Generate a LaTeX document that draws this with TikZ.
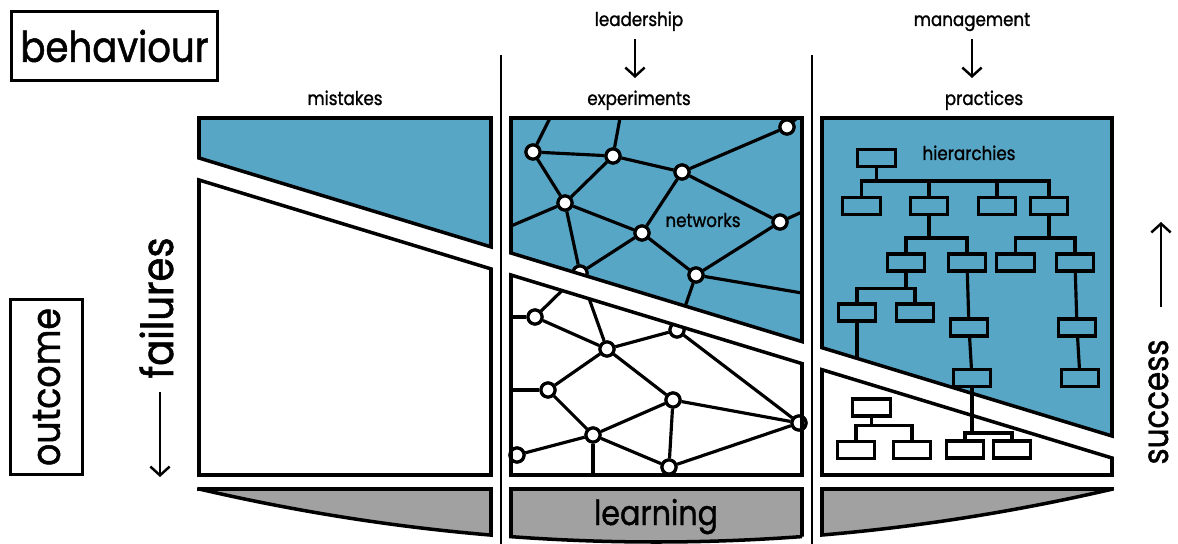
\documentclass[tikz,border=0pt]{standalone}
\usepackage{fontspec}
\setmainfont{Poppins}[FakeStretch=0.88, FakeBold=1.2]
\usetikzlibrary{arrows.meta}

\definecolor{netblue}{RGB}{88,166,198}
\definecolor{learngray}{RGB}{161,161,161}

\tikzset{
  panel/.style={line width=2pt, line join=miter},
  divider/.style={line width=1.7pt},
  link/.style={line width=1.8pt},
  dot/.style={circle, draw, fill=white, line width=1.8pt, inner sep=0pt, minimum size=8pt},
  orgbox/.style={draw, line width=1.8pt, inner sep=0pt, minimum width=21.5pt, minimum height=9.6pt},
  smalltext/.style={font=\fontsize{10.8}{13}\selectfont, inner sep=0pt},
  bigtext/.style={font=\fontsize{24}{28}\selectfont, inner sep=0pt},
  titlebox/.style={bigtext, draw, line width=1.7pt},
  arr/.style={line width=1.4pt, -{Straight Barb[length=5pt,width=11pt]}},
}

\begin{document}
\begin{tikzpicture}[x=0.02cm, y=-0.02cm]
\useasboundingbox (0,0) rectangle (1178,544);

% Titel
\node[titlebox, minimum width=116.8pt, minimum height=39pt] (behaviour) at (114.5,46) {behaviour};
\node[titlebox, font=\fontsize{22.5}{26}\selectfont, rotate=90, minimum width=100pt, minimum height=40.8pt] (outcome) at (46.5,387) {outcome};

% Achsen
\node[bigtext, font=\fontsize{25}{28}\selectfont, rotate=90, anchor=base] (failures) at (173,308) {failures};
\coordinate (failtip) at (160,477);
\draw[arr] (failtip |- 0,392) -- (failtip);
\node[bigtext, font=\fontsize{20}{24}\selectfont, rotate=90, anchor=base] (success) at (1168,402) {success};
\coordinate (succtip) at (1161,222);
\draw[arr] (succtip |- 0,307) -- (succtip);

% Trennlinien
\draw[divider] (501,55) -- (501,544);
\draw[divider] (812,55) -- (812,544);

% Ueberschriften
\node[smalltext, anchor=base] (mistakes) at (345,105) {mistakes};
\node[smalltext, anchor=base] (experiments) at (639,105) {experiments};
\node[smalltext, anchor=base] (practices) at (984,105) {practices};
\node[smalltext, anchor=base] (leadership) at (639,26) {leadership};
\node[smalltext, anchor=base] (management) at (972,26) {management};
\coordinate (leadtip) at (635,78);
\coordinate (mgmttip) at (972,78);
\draw[arr] (leadership.south -| leadtip) ++(0,8) -- (leadtip);
\draw[arr] (management.south -| mgmttip) ++(0,8) -- (mgmttip);

% Flaechen
\fill[netblue] (199,118) -- (491,118) -- (491,246.9) -- (199,158) -- cycle;
\fill[netblue] (511,118) -- (802,118) -- (802,341.6) -- (511,253) -- cycle;
\fill[netblue] (822,118) -- (1112,118) -- (1112,436) -- (822,347.7) -- cycle;

% Netzwerk
\node[dot] (A) at (533,152) {};
\node[dot] (B) at (613,156) {};
\node[dot] (C) at (682,172) {};
\node[dot] (D) at (787,127) {};
\node[dot] (E) at (565,203) {};
\node[dot] (F) at (642,233) {};
\node[dot] (G) at (780,222) {};
\node[dot] (H) at (696,275) {};
\node[dot] (I) at (580,273) {};
\node[dot] (J) at (535,317) {};
\node[dot] (K) at (607,349) {};
\node[dot] (L) at (677,330) {};
\node[dot] (M) at (548,390) {};
\node[dot] (N) at (673,400) {};
\node[dot] (O) at (593,435) {};
\node[dot] (P) at (799,423) {};
\node[dot] (Q) at (517,455) {};
\node[dot] (R) at (669,467) {};
\coordinate (Atop) at (550,118);
\coordinate (Btop) at (620,118);
\coordinate (Dout) at (797,118);
\coordinate (Eleft) at (511,226);
\coordinate (Gright) at (802,212);
\coordinate (Hright) at (802,293);
\coordinate (Jleft) at (511,317);
\coordinate (Mleft) at (511,390);
\coordinate (Odown) at (593,475);
\begin{scope}[link]
  \foreach \a/\b in {A/B, A/Atop, B/Btop, B/C, C/D, D/Dout, A/E, B/E, E/F, E/Eleft,
    E/I, F/I, F/C, F/H, C/G, G/H, G/Gright, H/Hright, H/L,
    J/Jleft, J/I, J/K, K/I, K/L, K/M, K/N, L/P, M/Mleft, M/O, N/O, N/P, N/R,
    O/Q, O/R, O/Odown, R/P}
    \draw (\a) -- (\b);
\end{scope}
\foreach \n in {A,B,C,D,E,F,G,H,I,J,K,L,M,N,O,P,Q,R}
  \node[dot] at (\n) {};
\fill[white] (511,253) -- (802,341.6) -- (802,363.6) -- (511,275) -- cycle;

% Umrisse
\draw[panel] (199,118) -- (491,118) -- (491,246.9) -- (199,158) -- cycle;
\draw[panel] (199,180) -- (491,268.9) -- (491,475) -- (199,475) -- cycle;
\draw[panel] (511,118) -- (802,118) -- (802,341.6) -- (511,253) -- cycle;
\draw[panel] (511,275) -- (802,363.6) -- (802,475) -- (511,475) -- cycle;
\draw[panel] (822,118) -- (1112,118) -- (1112,436) -- (822,347.7) -- cycle;
\draw[panel] (822,369.7) -- (1112,458) -- (1112,475) -- (822,475) -- cycle;

\node[smalltext, anchor=base] (networks) at (703,227) {networks};
\node[smalltext, anchor=base] (hierarchies) at (969,160) {hierarchies};

% Hierarchie
\node[orgbox] (r0) at (876.5,158) {};
\node[orgbox] (b1) at (861.5,206) {};
\node[orgbox] (b2) at (929,206) {};
\node[orgbox] (b3) at (997,206) {};
\node[orgbox] (b4) at (1049,206) {};
\node[orgbox] (c1) at (906,262.5) {};
\node[orgbox] (c2) at (967,262.5) {};
\node[orgbox] (c3) at (1015.5,262.5) {};
\node[orgbox] (c4) at (1075,262.5) {};
\node[orgbox] (d1) at (857,312.5) {};
\node[orgbox] (d2) at (915,312.5) {};
\node[orgbox] (e2) at (969,327.5) {};
\node[orgbox] (f) at (972,378) {};
\node[orgbox] (h) at (1077,327.5) {};
\node[orgbox] (i) at (1080,378) {};
\node[orgbox] (g1) at (965,449.5) {};
\node[orgbox] (g2) at (1012,449.5) {};
\node[orgbox] (k0) at (871.5,407.5) {};
\node[orgbox] (k1) at (856,450) {};
\node[orgbox] (k2) at (912,450) {};
\coordinate (d1end) at (857,358.4);
\begin{scope}[link]
  \foreach \c in {b1,b2,b3,b4} \draw (r0.south) -- ++(0,13) -| (\c.north);
  \foreach \c in {c1,c2} \draw (b2.south) -- ++(0,22) -| (\c.north);
  \foreach \c in {c3,c4} \draw (b4.south) -- ++(0,22) -| (\c.north);
  \foreach \c in {d1,d2} \draw (c1.south) -- ++(0,16) -| (\c.north);
  \foreach \c in {g1,g2} \draw (f.south) -- ++(0,45) -| (\c.north);
  \foreach \c in {k1,k2} \draw (k0.south) -- ++(0,8) -| (\c.north);
  \draw (c2) -- (e2) -- (f);
  \draw (c4) -- (h) -- (i);
  \draw (d1) -- (d1end);
\end{scope}

% Lernen
\filldraw[panel, fill=learngray] (199,489) -- (491,489) -- (491,535)
  -- plot[domain=491:199, samples=30] (\x,{542-2.54*((\x-656)/100)^2}) -- cycle;
\filldraw[panel, fill=learngray] (511,489) -- (802,489) -- (802,536.6)
  -- plot[domain=802:511, samples=30] (\x,{542-2.54*((\x-656)/100)^2}) -- cycle;
\filldraw[panel, fill=learngray] (822,489) -- (1112,489)
  -- plot[domain=1112:822, samples=30] (\x,{542-2.54*((\x-656)/100)^2}) -- cycle;
\node[bigtext, font=\fontsize{19.5}{22}\selectfont, anchor=base] (learning) at (656,525) {learning};

\end{tikzpicture}
\end{document}
